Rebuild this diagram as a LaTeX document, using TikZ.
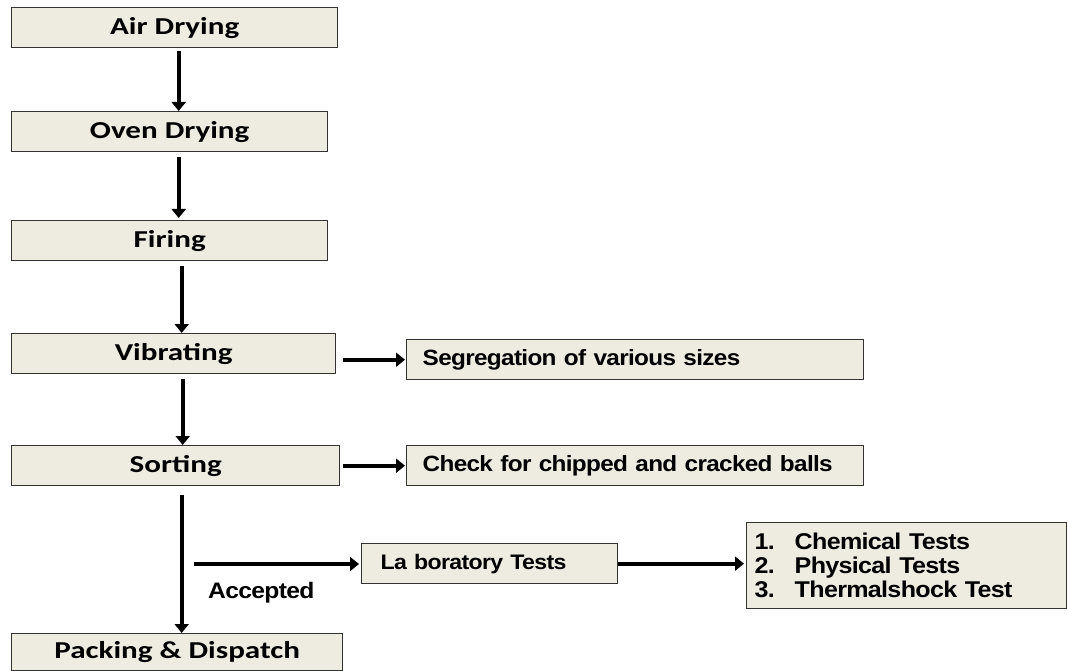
\documentclass[tikz,border=0pt]{standalone}
\usepackage{fontspec}
\usetikzlibrary{arrows.meta}
\newfontfamily\boxfont{Carlito Bold}[FakeStretch=1.28]
\newfontfamily\sidefont{Liberation Sans Bold}[FakeStretch=1.1, LetterSpace=-3]
\definecolor{boxfill}{HTML}{EEECE1}
\definecolor{boxline}{HTML}{333333}
\tikzset{
  box/.style={draw=boxline, line width=1.4pt, fill=boxfill, rectangle, anchor=north west, inner sep=0pt, minimum height=40pt},
  mainbox/.style={box, font=\boxfont\fontsize{24.3}{28}\selectfont},
  sidebox/.style={box, font=\sidefont\fontsize{22.1}{24}\selectfont, align=left},
  arr/.style={line width=3.6pt, -{Triangle[length=9pt,width=14pt]}},
}
\begin{document}
\begin{tikzpicture}[x=1pt,y=-1pt]
\useasboundingbox (0,0) rectangle (1068,671);
% main column
\node[mainbox, minimum width=326pt] (air) at (11,7) {Air Drying};
\node[mainbox, minimum width=316pt] (oven) at (11,111) {Oven Drying};
\node[mainbox, minimum width=316pt] (fire) at (11,220) {Firing};
\node[mainbox, minimum width=324pt] (vib) at (11,333) {Vibrating};
\node[mainbox, minimum width=328pt] (sort) at (11,445) {Sorting};
\node[mainbox, minimum width=331pt, minimum height=37pt] (pack) at (11,633) {Packing \& Dispatch};
% side boxes
\node[sidebox, minimum width=457pt, text width=457pt] (seg) at (406,339) {\hspace*{16pt}Segregation of various sizes};
\node[sidebox, minimum width=457pt, text width=457pt] (chk) at (406,445) {\hspace*{16pt}Check for chipped and cracked balls};
\node[sidebox, minimum width=256pt, text width=256pt, font=\sidefont\fontsize{21}{24}\selectfont] (lab) at (361,543) {\hspace*{19pt}La boratory Tests};
\node[sidebox, minimum width=320pt, text width=320pt, minimum height=86pt, font=\sidefont\fontsize{22.8}{24}\selectfont] (list) at (746,522)
  {\hspace*{8pt}\makebox[40pt][l]{1.}Chemical Tests\\
   \hspace*{8pt}\makebox[40pt][l]{2.}Physical Tests\\
   \hspace*{8pt}\makebox[40pt][l]{3.}Thermalshock Test};
% label
\node[font=\sidefont\fontsize{22.4}{24}\selectfont, anchor=west, inner sep=0pt] (acc) at (208,593) {Accepted};
\coordinate (accstart) at (194,564);
% vertical connectors
\draw[arr, shorten <=3pt] ([xshift=4pt]air.south) -- ([xshift=4pt]air.south |- oven.north);
\draw[arr, shorten <=5pt, shorten >=2pt] ([xshift=9pt]oven.south) -- ([xshift=9pt]oven.south |- fire.north);
\draw[arr, shorten <=5pt] ([xshift=12pt]fire.south) -- ([xshift=12pt]fire.south |- vib.north);
\draw[arr, shorten <=5pt] ([xshift=9pt]vib.south) -- ([xshift=9pt]vib.south |- sort.north);
\draw[arr, shorten <=9pt] ([xshift=6pt]sort.south) -- ([xshift=6pt]sort.south |- pack.north);
% horizontal connectors
\draw[arr, shorten >=1pt] ([xshift=7pt]vib.east |- seg.west) -- (seg.west);
\draw[arr, shorten >=1pt] ([xshift=3pt]sort.east |- chk.west) -- (chk.west);
\draw[arr, shorten >=2pt] (accstart) -- (accstart -| lab.west);
\draw[arr, shorten >=2pt] (lab.east) -- (lab.east -| list.west);
\end{tikzpicture}
\end{document}
